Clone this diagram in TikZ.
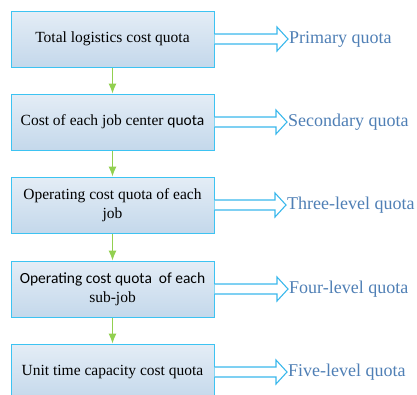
\documentclass[tikz,border=0pt]{standalone}
\usepackage{fontspec}
\setmainfont{Liberation Serif}
\newfontfamily\timesfont{Liberation Serif}
\newfontfamily\calibrifont{Carlito}
\usepackage{tikz}
\usetikzlibrary{positioning}
\usetikzlibrary{arrows.meta}
\usetikzlibrary{calc}
\definecolor{boxline}{HTML}{3DC3F2}
\definecolor{boxtop}{HTML}{E4EDF6}
\definecolor{boxbot}{HTML}{C4D8EB}
\definecolor{levelblue}{HTML}{4F7FB5}
\definecolor{downgreen}{HTML}{92D050}
\definecolor{blockline}{HTML}{3AB8EC}
\tikzset{
    quotabox/.style = {rectangle, draw=boxline, line width=1pt, top color=boxtop, bottom color=boxbot,
                       minimum width=203pt, minimum height=56pt, align=center, inner sep=2pt,
                       font=\timesfont\fontsize{15.5}{19}\selectfont},
    levelnode/.style = {anchor=west, inner sep=1pt, text=levelblue, font=\timesfont\fontsize{18}{21}\selectfont},
    edgen/.style = {-{Latex[length=10pt,width=8pt]}, line width=1pt, downgreen},
    blockarr/.style = {draw=blockline, fill=white, line width=1.1pt, line join=miter}
}

\begin{document}
\begin{tikzpicture}[x=1pt,y=1pt]
\useasboundingbox (0,0) rectangle (417,-394);
\node[quotabox] at (112.5, -39) (b1) {Total logistics cost quota};
\node[quotabox] at (112.5,-122) (b2) {Cost of each job center {\calibrifont quota}};
\node[quotabox] at (112.5,-205) (b3) {Operating cost quota of each\\job};
\node[quotabox] at (112.5,-289) (b4) {\calibrifont Operating cost quota \ of each\\sub-job};
\node[quotabox] at (112.5,-372) (b5) {Unit time capacity cost quota};

\node[levelnode] at (288, -39) (l1) {Primary quota};
\node[levelnode] at (287,-122) (l2) {Secondary quota};
\node[levelnode] at (286,-205) (l3) {Three-level quota};
\node[levelnode] at (288,-289) (l4) {Four-level quota};
\node[levelnode] at (287,-372) (l5) {Five-level quota};
%
\draw[edgen] (b1) -- (b2);
\draw[edgen] (b2) -- (b3);
\draw[edgen] (b3) -- (b4);
\draw[edgen] (b4) -- (b5);
% hollow block arrows, box -> level
\foreach \i in {1,...,5}{
  \draw[blockarr] ($(b\i.east)+(0,5)$) -- ($(l\i.west)+(-11,5)$) -- ($(l\i.west)+(-11,12)$)
     -- (l\i.west) -- ($(l\i.west)+(-11,-12)$) -- ($(l\i.west)+(-11,-5)$) -- ($(b\i.east)+(0,-5)$);
}
\end{tikzpicture}
\end{document}
